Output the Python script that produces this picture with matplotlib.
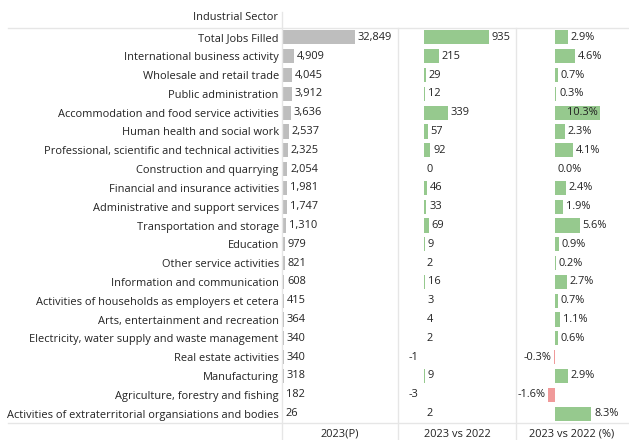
import matplotlib.pyplot as plt

# data
sectors = ['Total Jobs Filled', 'International business activity', 'Wholesale and retail trade',
           'Public administration', 'Accommodation and food service activities',
           'Human health and social work', 'Professional, scientific and technical activities',
           'Construction and quarrying', 'Financial and insurance activities',
           'Administrative and support services', 'Transportation and storage', 'Education',
           'Other service activities', 'Information and communication',
           'Activities of households as employers et cetera', 'Arts, entertainment and recreation',
           'Electricity, water supply and waste management', 'Real estate activities',
           'Manufacturing', 'Agriculture, forestry and fishing',
           'Activities of extraterritorial organsiations and bodies']
jobs_2023 = [32849, 4909, 4045, 3912, 3636, 2537, 2325, 2054, 1981, 1747, 1310,
             979, 821, 608, 415, 364, 340, 340, 318, 182, 26]
change = [935, 215, 29, 12, 339, 57, 92, 0, 46, 33, 69, 9, 2, 16, 3, 4, 2, -1, 9, -3, 2]
change_pct = [2.9, 4.6, 0.7, 0.3, 10.3, 2.3, 4.1, 0.0, 2.4, 1.9, 5.6, 0.9, 0.2, 2.7,
              0.7, 1.1, 0.6, -0.3, 2.9, -1.6, 8.3]
col_titles = ['2023(P)', '2023 vs 2022', '2023 vs 2022 (%)']

W, H = 629, 440
GREY, GREEN, RED = '#bebebe', '#96c98e', '#f09a9a'
TXT = '#222222'
LINE = '#e6e6e6'
plt.rcParams['font.family'] = ['Open Sans', 'DejaVu Sans']
FS = 7.9

fig = plt.figure(figsize=(W / 100, H / 100), dpi=100)

top, bottom = 28, 423
n = len(sectors)
ypos = list(range(n))


def px_axes(x0, x1):
    return fig.add_axes([x0 / W, 1 - bottom / H, (x1 - x0) / W, (bottom - top) / H])


def clean(ax):
    ax.set_ylim(n - 0.5, -0.5)
    ax.set_xticks([])
    ax.set_yticks([])
    for s in ax.spines.values():
        s.set_visible(False)
    ax.patch.set_alpha(0)


# column 1: 2023 values
ax1 = px_axes(283, 398)
ax1.barh(ypos, jobs_2023, height=0.75, color=GREY)
ax1.set_xlim(0, 52500)
clean(ax1)
for y, v in zip(ypos, jobs_2023):
    ax1.annotate(f'{v:,}', (v, y), xytext=(2, 0), textcoords='offset points',
                 va='center', ha='left', fontsize=FS, color=TXT)
ax1.set_yticks(ypos)
ax1.set_yticklabels(sectors, fontsize=FS, color=TXT)
ax1.tick_params(axis='y', length=0, pad=3)

# column 2: absolute change
ax2 = px_axes(398, 516)
cols2 = [GREEN if v >= 0 else RED for v in change]
ax2.barh(ypos, change, height=0.75, color=cols2)
ax2.set_xlim(-374, 1323)
clean(ax2)
for y, v in zip(ypos, change):
    if v >= 0:
        ax2.annotate(f'{v}', (v, y), xytext=(2, 0), textcoords='offset points',
                     va='center', ha='left', fontsize=FS, color=TXT)
    else:
        ax2.annotate(f'{v}', (0, y), xytext=(-4, 0), textcoords='offset points',
                     va='center', ha='right', fontsize=FS, color=TXT)

# column 3: percentage change
ax3 = px_axes(516, 629)
cols3 = [GREEN if v >= 0 else RED for v in change_pct]
ax3.barh(ypos, change_pct, height=0.75, color=cols3)
ax3.set_xlim(-8.93, 16.9)
clean(ax3)
vmax = max(change_pct)
for y, v in zip(ypos, change_pct):
    lab = f'{v:.1f}%'
    if v == vmax:
        ax3.annotate(lab, (v, y), xytext=(-2, 0), textcoords='offset points',
                     va='center', ha='right', fontsize=FS, color=TXT)
    elif v >= 0:
        ax3.annotate(lab, (v, y), xytext=(2, 0), textcoords='offset points',
                     va='center', ha='left', fontsize=FS, color=TXT)
    else:
        ax3.annotate(lab, (v, y), xytext=(-2, 0), textcoords='offset points',
                     va='center', ha='right', fontsize=FS, color=TXT)

# grid lines and headers
def hline(y, x0, x1):
    fig.add_artist(plt.Line2D([x0 / W, x1 / W], [1 - y / H, 1 - y / H], color=LINE, lw=1))


def vline(x, y0, y1):
    fig.add_artist(plt.Line2D([x / W, x / W], [1 - y0 / H, 1 - y1 / H], color=LINE, lw=1))


hline(top, 8, W)
hline(bottom, 8, W)
vline(281.5, 12, H)
vline(398, top, H)
vline(516, top, H)

fig.text(278 / W, 1 - 18 / H, 'Industrial Sector', ha='right', va='center', fontsize=FS, color=TXT)
for xc, t in zip([340, 457, 572], col_titles):
    fig.text(xc / W, 1 - 434 / H, t, ha='center', va='center', fontsize=FS, color=TXT)

fig.savefig('out.png', dpi=100)
